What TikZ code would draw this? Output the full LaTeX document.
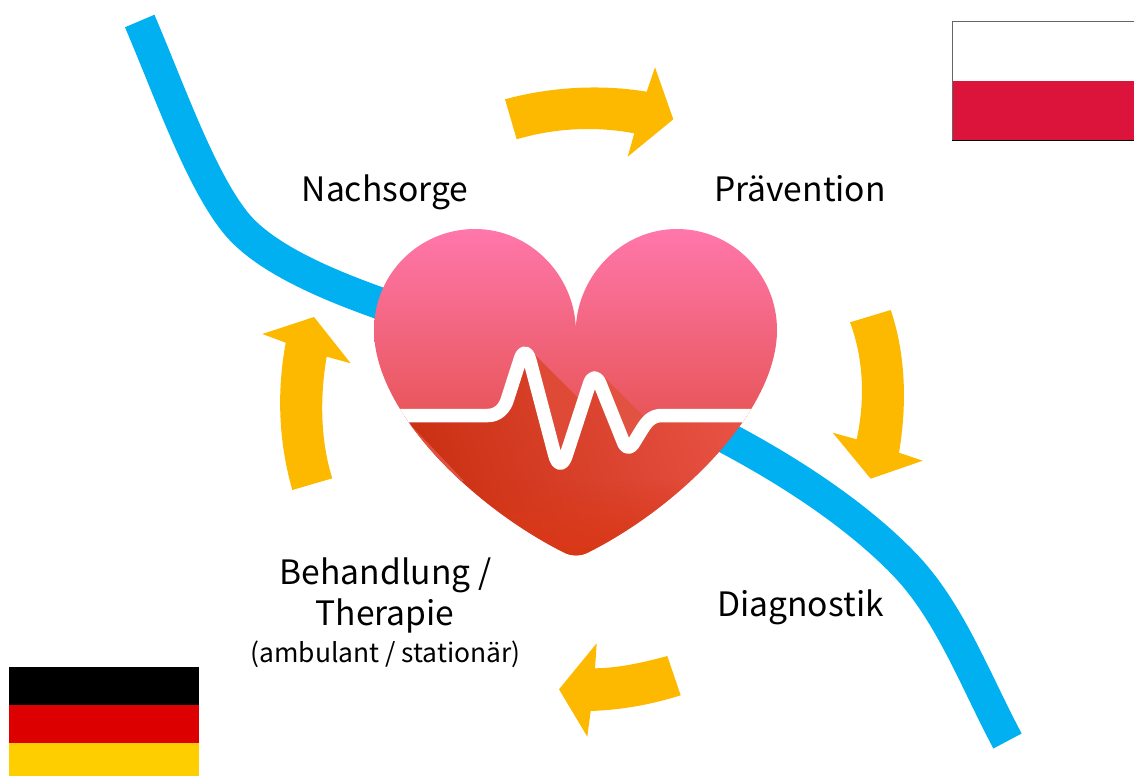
\documentclass[tikz,border=0pt]{standalone}
\usepackage{fontspec}
\setmainfont{Noto Sans CJK SC}
\usetikzlibrary{fadings}
\definecolor{ribbon}{HTML}{00B0F0}
\definecolor{amber}{HTML}{FDB900}
\definecolor{topA}{HTML}{FF77AB}
\definecolor{midA}{HTML}{E8565A}
\definecolor{lowA}{HTML}{C92F10}
\definecolor{lowB}{HTML}{EA5549}
\definecolor{lowC}{HTML}{DA3817}
\definecolor{shadeC}{HTML}{DE4A36}
\definecolor{shadeD}{HTML}{E25241}
\definecolor{sliver}{HTML}{E25040}
\definecolor{plred}{HTML}{DC143C}
\definecolor{deblack}{HTML}{000000}
\definecolor{dered}{HTML}{DD0000}
\definecolor{degold}{HTML}{FFCE00}
\tikzset{
  ribbonline/.style={draw=ribbon,line width=32pt},
  cyclearrow/.style={fill=amber,draw=none},
  lbl/.style={font=\fontsize{33.6}{40}\selectfont,inner sep=0pt,anchor=base,text=black},
  sublbl/.style={font=\fontsize{26.4}{30}\selectfont,inner sep=0pt,anchor=base,text=black},
  pulse/.style={draw=white,line width=13.5pt,line join=round}
}
\pgfdeclareverticalshading{heartup}{100bp}{color(0bp)=(midA);color(25bp)=(midA);color(75bp)=(topA);color(100bp)=(topA)}
\def\heartoutline{(575.8,328) .. controls (574,275) and (530,229) .. (475,229)
 .. controls (419,229) and (374,274) .. (374,330)
 .. controls (374,410) and (470,505) .. (563,552)
 .. controls (571,556.5) and (581,556.5) .. (589,552)
 .. controls (682,505) and (777,410) .. (777,330)
 .. controls (777,274) and (732,229) .. (677,229)
 .. controls (622,229) and (578,275) .. (575.8,328) -- cycle}
\def\pulsepath{-- (488,415.5) .. controls (498,415.5) and (505,408) .. (507.5,399)
  -- (519.7,360.9) .. controls (522.6,350.5) and (527.2,350.5) .. (530,361)
  -- (554.7,454.7) .. controls (557.6,465.9) and (562.8,466) .. (566.3,455)
  -- (589.5,383.8) .. controls (592,376.2) and (596.6,376) .. (599.8,383.3)
  -- (623.9,443.4) .. controls (626,448.2) and (630,448.5) .. (632.9,444.2)
  -- (641,431) .. controls (647,421) and (652,415.5) .. (662,415.5)}
\begin{document}
\begin{tikzpicture}[x=1pt,y=-1pt]
\useasboundingbox (0,0) rectangle (1134,776);
% ribbon
\coordinate (ra) at (139.7,21);
\coordinate (rb) at (400,310);
\coordinate (rc) at (725,437);
\coordinate (rd) at (1007.5,741);
\draw[ribbonline] (ra) .. controls (170,92) and (200,178) .. (235,222) .. controls (262,256) and (320,282) .. (379,303) -- (rb);
\draw[ribbonline] (rc) .. controls (795,474) and (860,518) .. (905,565) .. controls (950,612) and (975,680) .. (rd);
% heart
\begin{scope}
\clip \heartoutline;
\shade[shading=heartup] (370,229) rectangle (780,416);
\fill[shadeC] (530,350) -- (585,405) -- (556,472) -- (530,472) -- cycle;
\fill[shadeD] (602,375) -- (647,420) -- (627,447) -- cycle;
\shade[left color=lowA,right color=lowB,shading angle=110] (390,415.5) \pulsepath -- (790,415.5) -- (790,560) -- (390,560) -- cycle;
\fill[lowC,path fading=north] (370,480) rectangle (780,556);
\fill[sliver] (404,418) -- (464,481) -- (390,481) -- cycle;
\draw[pulse] (380,415.5) \pulsepath -- (790,415.5);
\end{scope}
% arrows
\fill[cyclearrow] (505,99.3) .. controls (550,87) and (600,84) .. (646.7,91.7) -- (655,67.3) -- (673.3,119.3) -- (627.7,156.7) -- (634.3,133.3)
  .. controls (595,126) and (555,128) .. (516.7,139.3) -- cycle;
\fill[cyclearrow] (850,322.3) -- (890.7,310) .. controls (906,355) and (907,405) .. (899,452.7) -- (922.7,460.7) -- (870.7,478.7) -- (832.7,432.7) -- (856.7,439.3)
  .. controls (865,400) and (864,360) .. (850,322.3) -- cycle;
\fill[cyclearrow] (680.7,695.3) .. controls (650,705) and (620,710) .. (590.7,711) -- (587.3,736.7) -- (559,689.3) -- (596.7,643.3) -- (595,668.3)
  .. controls (620,668) and (645,662) .. (667.3,656) -- cycle;
\fill[cyclearrow] (332.3,478.3) -- (292.3,490) .. controls (278,440) and (277,390) .. (285.7,342.7) -- (262.3,334) -- (314,317) -- (350.7,363.3) -- (326.7,356.7)
  .. controls (320,395) and (320,440) .. (332.3,478.3) -- cycle;
% labels
\node[lbl] (nachsorge) at (385,201.4) {Nachsorge};
\node[lbl] (praevention) at (800,201.4) {Prävention};
\node[lbl] (diagnostik) at (800.5,616.4) {Diagnostik};
\node[lbl] (behandlung) at (385.5,584) {Behandlung /};
\node[lbl] (therapie) at (385,625.7) {Therapie};
\node[sublbl] (ambulant) at (385.5,662.4) {(ambulant / stationär)};
% flags
\fill[white] (952,21) rectangle (1134,81);
\fill[plred] (952,81) rectangle (1134,140);
\draw[black!60,line width=1pt] (952,140) -- (952,21.5) -- (1134,21.5);
\draw[black,line width=1pt] (952,140) -- (1134,140);
\fill[deblack] (9,667) rectangle (199,705);
\fill[dered] (9,705) rectangle (199,743);
\fill[degold] (9,743) rectangle (199,776);
\end{tikzpicture}
\end{document}
